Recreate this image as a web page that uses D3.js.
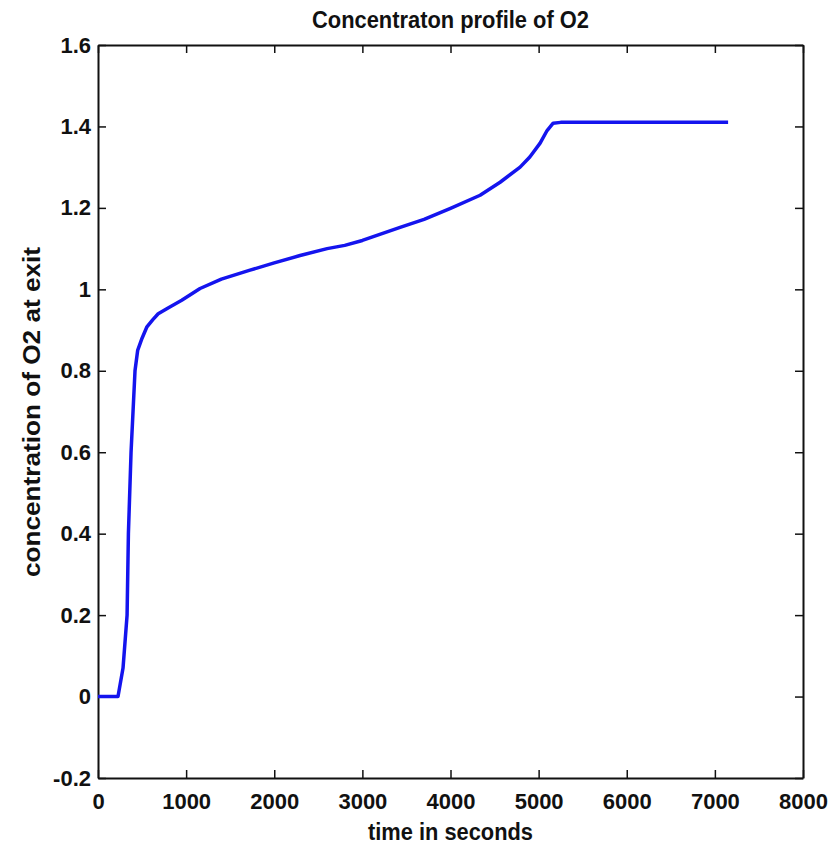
<!DOCTYPE html>
<html>
<head>
<meta charset="utf-8">
<script src="https://cdn.jsdelivr.net/npm/d3@7/dist/d3.min.js"></script>
<style>
	body { margin: 0; background: #fff; }
	text { font-family: "Liberation Sans", Arial, sans-serif; font-weight: bold; fill: #111; }
</style>
</head>
<body>
<div id="chart"></div>
<script>
	// time (s) and exit concentration
	var timeValues = [0, 100, 227, 284, 330, 345, 375, 420, 450, 500, 553, 620, 683, 800, 950, 1158, 1400, 1725, 2000, 2293, 2600, 2800, 3000, 3428, 3700, 4000, 4336, 4563, 4790, 4900, 5017, 5096, 5165, 5250, 6000, 7150];
	var concValues = [0, 0, 0, 0.07, 0.2, 0.4, 0.6, 0.8, 0.85, 0.88, 0.907, 0.925, 0.94, 0.955, 0.973, 1.002, 1.025, 1.047, 1.065, 1.083, 1.1, 1.108, 1.12, 1.152, 1.172, 1.199, 1.231, 1.263, 1.3, 1.325, 1.359, 1.39, 1.408, 1.41, 1.41, 1.41];
	var xTicks = [0, 1000, 2000, 3000, 4000, 5000, 6000, 7000, 8000];
	var yTicks = [-0.2, 0, 0.2, 0.4, 0.6, 0.8, 1, 1.2, 1.4, 1.6];

	var W = 838, H = 845;
	var margin = {top: 45, right: 35, bottom: 67, left: 98};
	var width = W - margin.left - margin.right,
		height = H - margin.top - margin.bottom;

	var x = d3.scaleLinear().domain([0, 8000]).range([0, width]);
	var y = d3.scaleLinear().domain([-0.2, 1.6]).range([height, 0]);

	var svg = d3.select("#chart").append("svg")
		.attr("width", W)
		.attr("height", H);
	var g = svg.append("g")
		.attr("transform", "translate(" + margin.left + "," + margin.top + ")");

	var fmtY = function(d) { return String(+d.toFixed(1)); };
	var fmtX = function(d) { return String(d); };

	// bottom + left with labels, top + right ticks only (all inward)
	var ax = g.append("g").attr("transform", "translate(0," + height + ")")
		.call(d3.axisBottom(x).tickValues(xTicks).tickFormat(fmtX).tickSizeInner(-8).tickSizeOuter(0).tickPadding(15));
	var ay = g.append("g")
		.call(d3.axisLeft(y).tickValues(yTicks).tickFormat(fmtY).tickSizeInner(-8).tickSizeOuter(0).tickPadding(7));
	var axTop = g.append("g")
		.call(d3.axisTop(x).tickValues(xTicks).tickSizeInner(-8).tickSizeOuter(0).tickFormat(""));
	var ayRight = g.append("g").attr("transform", "translate(" + width + ",0)")
		.call(d3.axisRight(y).tickValues(yTicks).tickSizeInner(-8).tickSizeOuter(0).tickFormat(""));

	[ax, ay, axTop, ayRight].forEach(function(a) {
		a.selectAll("path").attr("stroke", "#111").attr("stroke-width", 2);
		a.selectAll("line").attr("stroke", "#111").attr("stroke-width", 1.5);
	});
	ax.selectAll("text").style("font-size", "22px").attr("fill", "#111");
	ay.selectAll("text").style("font-size", "22px").attr("fill", "#111");

	var line = d3.line()
		.x(function(d, i) { return x(timeValues[i]); })
		.y(function(d) { return y(d); });

	g.append("path")
		.datum(concValues)
		.attr("fill", "none")
		.attr("stroke", "#1414ee")
		.attr("stroke-width", 3.5)
		.attr("stroke-linejoin", "round")
		.attr("d", line);

	svg.append("text")
		.attr("x", margin.left + width / 2)
		.attr("y", 28)
		.attr("text-anchor", "middle")
		.attr("textLength", 277)
		.attr("lengthAdjust", "spacingAndGlyphs")
		.style("font-size", "24px")
		.text("Concentraton profile of O2");

	svg.append("text")
		.attr("x", margin.left + width / 2)
		.attr("y", 840)
		.attr("text-anchor", "middle")
		.attr("textLength", 165)
		.attr("lengthAdjust", "spacingAndGlyphs")
		.style("font-size", "23px")
		.text("time in seconds");

	svg.append("text")
		.attr("transform", "translate(40,412) rotate(-90)")
		.attr("text-anchor", "middle")
		.attr("textLength", 330)
		.attr("lengthAdjust", "spacingAndGlyphs")
		.style("font-size", "23px")
		.text("concentration of O2 at exit");
</script>
</body>
</html>
